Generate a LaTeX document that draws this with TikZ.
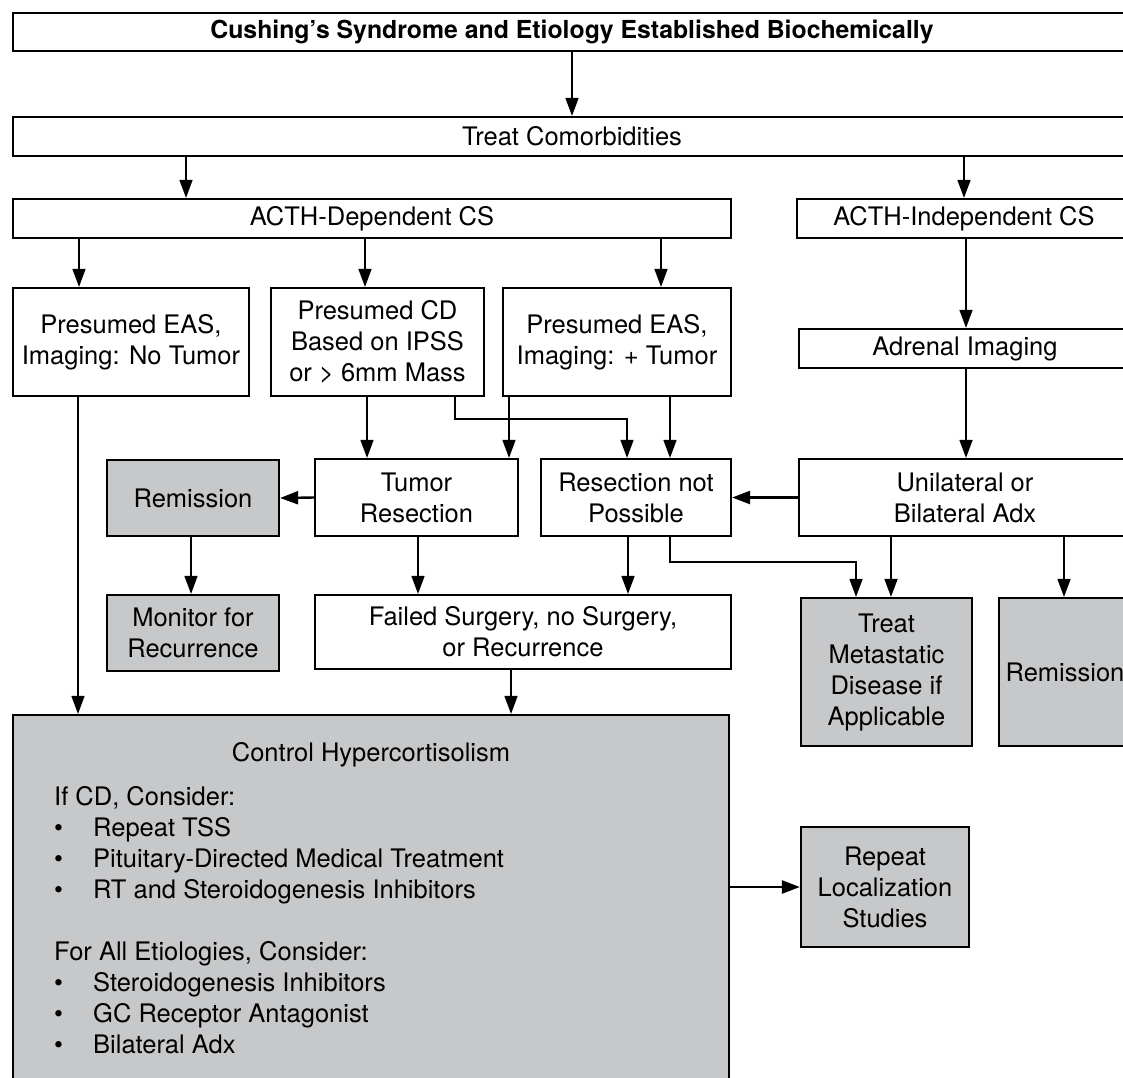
\documentclass[tikz,border=0pt]{standalone}
\usepackage{fontspec}
\setmainfont{TeX Gyre Heros}
\usepackage{tikz}
\usetikzlibrary{arrows.meta}
\definecolor{boxgray}{RGB}{199,200,202}

\begin{document}
\begin{tikzpicture}[
    x=1pt, y=-1pt,
    box/.style={draw, line width=2.2pt, align=center, inner sep=0pt, font=\fontsize{25.5}{31}\selectfont}, % plain box
    shaded/.style={box, fill=boxgray}, % grey box
    headbox/.style={box, font=\fontsize{24.8}{31}\selectfont\bfseries}, % bold top box
    txt/.style={inner sep=0pt, font=\fontsize{25.5}{31}\selectfont}, % loose text
    arr/.style={-{Triangle[length=18pt,width=13pt]}, line width=1.5pt},
    harr/.style={arr, line width=2.4pt}
    ]
    \useasboundingbox (0,0) rectangle (1123,1077);
    \clip (0,0) rectangle (1123,1077);

    % first rows
    \node[headbox, minimum width=1118pt, minimum height=38pt] (start) at (572,32) {Cushing’s Syndrome and Etiology Established Biochemically};
    \node[box, minimum width=1118pt, minimum height=39pt] (comorb) at (572,136.5) {Treat Comorbidities};
    \node[box, minimum width=718pt, minimum height=39pt] (dep) at (372,218.5) {ACTH-Dependent CS};
    \node[box, minimum width=334pt, minimum height=39pt] (indep) at (964,218.5) {ACTH-Independent CS};

    % presumed etiology
    \node[box, minimum width=236pt, minimum height=108pt] (easno) at (131,342) {Presumed EAS,\\Imaging: No Tumor};
    \node[box, minimum width=213pt, minimum height=108pt] (cd) at (377.5,342) {Presumed CD\\Based on IPSS\\or > 6mm Mass};
    \node[box, minimum width=228pt, minimum height=108pt] (eastum) at (617,342) {Presumed EAS,\\Imaging: + Tumor};
    \node[box, minimum width=332pt, minimum height=39pt] (adrimg) at (965,348.5) {Adrenal Imaging};

    % surgery
    \node[shaded, minimum width=172pt, minimum height=76pt] (remis) at (193,498) {Remission};
    \node[box, minimum width=203pt, minimum height=77pt] (tumres) at (416.5,497.5) {Tumor\\Resection};
    \node[box, minimum width=190pt, minimum height=77pt] (notposs) at (636,497.5) {Resection not\\Possible};
    \node[box, minimum width=332pt, minimum height=77pt] (adx) at (965,497.5) {Unilateral or\\Bilateral Adx};

    % outcomes
    \node[shaded, minimum width=172pt, minimum height=76pt] (monitor) at (193,633) {Monitor for\\Recurrence};
    \node[box, minimum width=416pt, minimum height=74pt] (failed) at (523,632) {Failed Surgery, no Surgery,\\or Recurrence};
    \node[shaded, minimum width=171pt, minimum height=148pt] (metast) at (886.5,672) {Treat\\Metastatic\\Disease if\\Applicable};
    \node[shaded, minimum width=132pt, minimum height=148pt] (remistwo) at (1065,672) {Remission};

    % control box
    \node[shaded, minimum width=716pt, minimum height=395pt] (control) at (371,912.5) {};
    \node[txt] (ctrltitle) at (371,755) {Control Hypercortisolism};
    \node[txt, anchor=base west, align=left] (ctrllist) at (54,1053) {If CD, Consider:\\
        \makebox[39pt][l]{\textbullet}Repeat TSS\\
        \makebox[39pt][l]{\textbullet}Pituitary-Directed Medical Treatment\\
        \makebox[39pt][l]{\textbullet}RT and Steroidogenesis Inhibitors\\[31pt]
        For All Etiologies, Consider:\\
        \makebox[39pt][l]{\textbullet}Steroidogenesis Inhibitors\\
        \makebox[39pt][l]{\textbullet}GC Receptor Antagonist\\
        \makebox[39pt][l]{\textbullet}Bilateral Adx};
    \node[shaded, minimum width=168pt, minimum height=120pt] (relocal) at (885,887) {Repeat\\Localization\\Studies};

    % connectors
    \draw[arr] (start.south) -- (comorb.north);
    \draw[arr] (186,0 |- comorb.south) -- (186,0 |- dep.north);
    \draw[arr] (indep.north |- comorb.south) -- (indep.north);
    \draw[arr] (79,0 |- dep.south) -- (79,0 |- easno.north);
    \draw[arr] (365,0 |- dep.south) -- (365,0 |- cd.north);
    \draw[arr] (661,0 |- dep.south) -- (661,0 |- eastum.north);
    \draw[arr] (966,0 |- indep.south) -- (966,0 |- adrimg.north);
    \draw[arr] (966,0 |- adrimg.south) -- (966,0 |- adx.north);
    \draw[arr] (367,0 |- cd.south) -- (367,0 |- tumres.north);
    \draw[arr] (509,0 |- eastum.south) -- (509,0 |- tumres.north);
    \draw[arr] (455,0 |- cd.south) |- (627,419) -- (627,0 |- notposs.north);
    \draw[arr] (670,0 |- eastum.south) -- (670,0 |- notposs.north);
    \draw[harr] (tumres.west) -- (remis.east);
    \draw[harr] (adx.west) -- (notposs.east);
    \draw[arr] (191,0 |- remis.south) -- (191,0 |- monitor.north);
    \draw[arr] (418,0 |- tumres.south) -- (418,0 |- failed.north);
    \draw[arr] (628,0 |- notposs.south) -- (628,0 |- failed.north);
    \draw[arr] (670,0 |- notposs.south) |- (856,562) -- (856,0 |- metast.north);
    \draw[arr] (891,0 |- adx.south) -- (891,0 |- metast.north);
    \draw[arr] (1064,0 |- adx.south) -- (1064,0 |- remistwo.north);
    \draw[arr] (78,0 |- easno.south) -- (78,0 |- control.north);
    \draw[arr] (511,0 |- failed.south) -- (511,0 |- control.north);
    \draw[harr] (relocal.west -| control.east) -- (relocal.west);
\end{tikzpicture}
\end{document}
